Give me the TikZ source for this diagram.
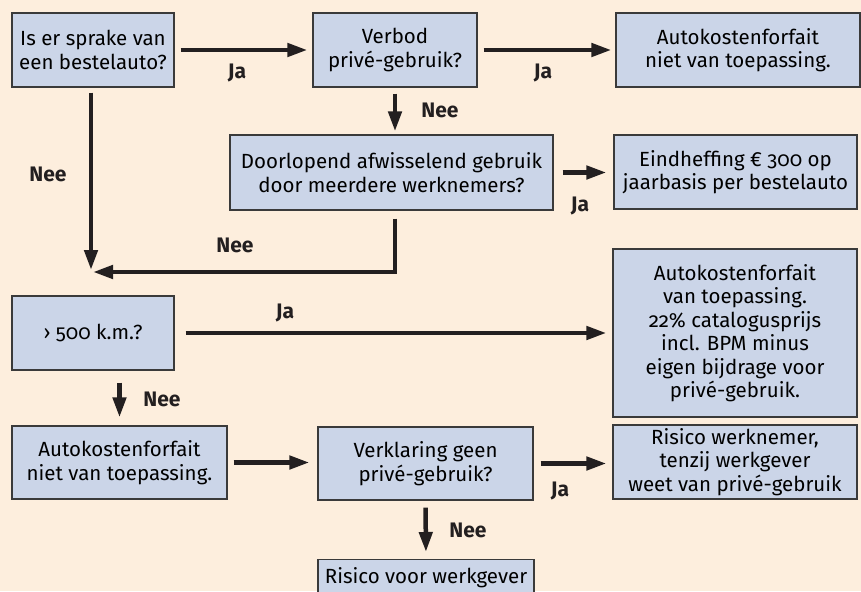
\documentclass[tikz,border=0pt]{standalone}
\usepackage{fontspec}
\setmainfont{Fira Sans}[Numbers=OldStyle]
\usetikzlibrary{arrows.meta}
\definecolor{bgpeach}{HTML}{FDEEDD}
\definecolor{boxblue}{HTML}{CBD5E8}
\definecolor{boxline}{HTML}{3A3A3A}
\definecolor{arrowink}{HTML}{231F20}
\tikzset{
  box/.style={draw=boxline, fill=boxblue, line width=1.2pt, align=center,
    inner sep=0pt, font=\fontsize{20.5}{23.5}\selectfont},
  arr/.style={draw=arrowink, line width=4.5pt,
    -{Triangle[length=20pt,width=13pt]}},
  lbl/.style={font=\fontsize{21}{24}\selectfont\bfseries, text=arrowink}
}
\begin{document}
\begin{tikzpicture}[x=1pt,y=-1pt]
    \useasboundingbox (0,0) rectangle (861,591);
    \fill[bgpeach] (0,0) rectangle (861,591);
    \clip (0,0) rectangle (861,591);

    % questions and outcomes
    \node [box, minimum width=162, minimum height=74] (q1) at (93,50) {Is er sprake van\\een bestelauto?};
    \node [box, minimum width=164, minimum height=74] (q2) at (395,50) {Verbod\\privé-gebruik?};
    \node [box, minimum width=244, minimum height=74] (q3) at (738,50) {Autokostenforfait\\niet van toepassing.};
    \node [box, minimum width=323, minimum height=75] (q4) at (391.5,172.5) {Doorlopend afwisselend gebruik\\door meerdere werknemers?};
    \node [box, minimum width=243, minimum height=74] (q5) at (735.5,172) {Eindheffing € 300 op\\jaarbasis per bestelauto};
    \node [box, minimum width=162, minimum height=74] (q6) at (93,333) {› 500 k.m.?};
    \node [box, minimum width=244, minimum height=168] (q7) at (735,333) {Autokostenforfait\\van toepassing.\\22\% catalogusprijs\\incl. BPM minus\\eigen bijdrage voor\\privé-gebruik.};
    \node [box, minimum width=215, minimum height=73] (q8) at (119.5,462.5) {Autokostenforfait\\niet van toepassing.};
    \node [box, minimum width=215, minimum height=73] (q9) at (425.5,463.5) {Verklaring geen\\privé-gebruik?};
    \node [box, minimum width=216, minimum height=36, anchor=north] (q10) at (426,559) {Risico voor werkgever};
    \node [box, minimum width=244, minimum height=74] (q11) at (735,462) {Risico werknemer,\\tenzij werkgever\\weet van privé-gebruik};

    \coordinate (join) at (91,272);

    % connectors
    \draw [arr, shorten <=6pt, shorten >=5pt] (q1.east) -- (q2.west);
    \draw [arr, shorten <=6pt, shorten >=4pt] (q2.east) -- (q3.west);
    \draw [arr, shorten <=6pt, shorten >=3pt] (q2.south) -- (q2.south |- q4.north);
    \draw [arr, shorten <=9pt, shorten >=7pt] (q4.east) -- (q4.east -| q5.west);
    \draw [arr, shorten <=5pt, shorten >=2pt] (q1.south -| join) -- (join);
    \draw [arr, shorten <=8pt, shorten >=2pt] (q4.south -| q2.south) |- (join);
    \draw [arr, shorten <=11pt, shorten >=6pt] (q6.east) -- (q7.west);
    \draw [arr, shorten <=12pt, shorten >=8pt] (q6.south -| q8.north) -- (q8.north);
    \draw [arr, shorten <=6pt, shorten >=8pt] (q8.east) -- (q8.east -| q9.west);
    \draw [arr, shorten <=7pt, shorten >=6pt] (q9.east) -- (q9.east -| q11.west);
    \draw [arr, shorten <=7pt, shorten >=7pt] (q9.south) -- (q10.north);

    % answers
    \node [lbl] (ja1) at (237,73) {Ja};
    \node [lbl] (ja2) at (543,73) {Ja};
    \node [lbl] (nee1) at (440,110) {Nee};
    \node [lbl] (nee2) at (48,174) {Nee};
    \node [lbl] (ja3) at (580,206) {Ja};
    \node [lbl] (nee3) at (235,245) {Nee};
    \node [lbl] (ja4) at (285,313) {Ja};
    \node [lbl] (nee4) at (162,399) {Nee};
    \node [lbl] (ja5) at (560,491) {Ja};
    \node [lbl] (nee5) at (468,530) {Nee};
\end{tikzpicture}
\end{document}
